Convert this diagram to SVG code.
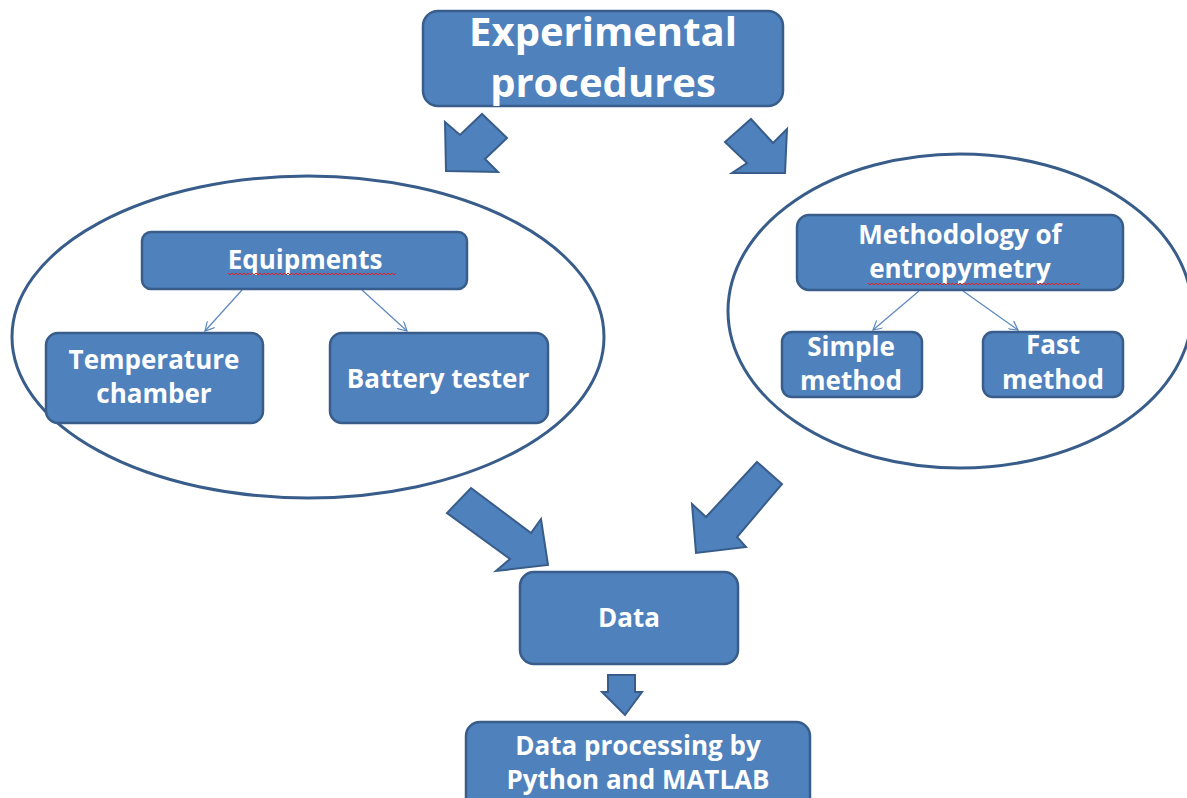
<svg xmlns="http://www.w3.org/2000/svg" width="1187" height="798" viewBox="0 0 1187 798">
<style>
.box{fill:#4F81BD;stroke:#385D8A;stroke-width:2.5}
.ell{fill:none;stroke:#385D8A;stroke-width:3}
.blk{fill:#4F81BD;stroke:#385D8A;stroke-width:2;stroke-linejoin:miter}
.lbl{font-family:"Open Sans","Liberation Sans",sans-serif;font-weight:700;font-size:26px;fill:#FFFFFF;text-anchor:middle}
.ttl{font-family:"Open Sans","Liberation Sans",sans-serif;font-weight:700;font-size:40px;fill:#FFFFFF;text-anchor:middle}
.con{stroke:#5B87C0;stroke-width:1.2;fill:none}
.wavy{stroke:#E02020;stroke-width:1;fill:none}
</style>
<defs>
<marker id="open" viewBox="0 0 10 10" refX="9" refY="5" markerWidth="10" markerHeight="10" markerUnits="userSpaceOnUse" orient="auto">
<path d="M0,0 L9,5 L0,10" fill="none" stroke="#5B87C0" stroke-width="1.2"/>
</marker>
</defs>
<rect width="1187" height="798" fill="#FFFFFF"/>

<g id="ellipses">
<ellipse class="ell" cx="308" cy="337" rx="296" ry="161"/>
<ellipse class="ell" cx="960" cy="311" rx="232" ry="157"/>
</g>

<g id="connectors">
<polygon class="blk" points="445,122 460,135 482,114 507,138 485,159 498,172 446,171"/>
<polygon class="blk" points="751,119 773,143 787,129 785,173 732,173 747,163 725,142"/>
<polygon class="blk" points="471,488 531,533 541,519 548,565 496,571 510,559 447,513"/>
<polygon class="blk" points="757,462 782,484 737,537 746,547 696,553 692,504 706,517"/>
<polygon class="blk" points="608,675 635,675 635,692 642,692 625,715 602,692 608,692"/>
<line class="con" x1="242" y1="290" x2="205" y2="331" marker-end="url(#open)"/>
<line class="con" x1="362" y1="290" x2="407" y2="331" marker-end="url(#open)"/>
<line class="con" x1="919" y1="291" x2="873" y2="330" marker-end="url(#open)"/>
<line class="con" x1="963" y1="291" x2="1018" y2="330" marker-end="url(#open)"/>
</g>

<g id="experimental-procedures">
<rect class="box" x="423" y="11" width="360" height="95" rx="15"/>
<text class="ttl" x="603" y="46">Experimental</text>
<text class="ttl" x="603" y="97">procedures</text>
</g>

<g id="equipments">
<rect class="box" x="142" y="232" width="325" height="57" rx="9"/>
<text class="lbl" x="305" y="269">Equipments</text>
<path class="wavy" d="M228,273 l2,2 l2,-2 l2,2 l2,-2 l2,2 l2,-2 l2,2 l2,-2 l2,2 l2,-2 l2,2 l2,-2 l2,2 l2,-2 l2,2 l2,-2 l2,2 l2,-2 l2,2 l2,-2 l2,2 l2,-2 l2,2 l2,-2 l2,2 l2,-2 l2,2 l2,-2 l2,2 l2,-2 l2,2 l2,-2 l2,2 l2,-2 l2,2 l2,-2 l2,2 l2,-2 l2,2 l2,-2 l2,2 l2,-2 l2,2 l2,-2 l2,2 l2,-2 l2,2 l2,-2 l2,2 l2,-2 l2,2 l2,-2 l2,2 l2,-2 l2,2 l2,-2 l2,2 l2,-2 l2,2 l2,-2 l2,2 l2,-2 l2,2 l2,-2 l2,2 l2,-2 l2,2 l2,-2 l2,2 l2,-2 l2,2 l2,-2 l2,2 l2,-2 l2,2 l2,-2 l2,2 l2,-2 l2,2 l2,-2 l2,2 l2,-2 l2,2 l2,-2"/>
</g>

<g id="temperature-chamber">
<rect class="box" x="46" y="333" width="217" height="90" rx="12"/>
<text class="lbl" x="154" y="369">Temperature</text>
<text class="lbl" x="154" y="403">chamber</text>
</g>

<g id="battery-tester">
<rect class="box" x="330" y="333" width="218" height="90" rx="12"/>
<text class="lbl" x="438" y="388">Battery tester</text>
</g>

<g id="methodology">
<rect class="box" x="797" y="215" width="326" height="75" rx="12"/>
<text class="lbl" x="960" y="244">Methodology of</text>
<text class="lbl" x="960" y="278">entropymetry</text>
<path class="wavy" d="M868,283 l2,2 l2,-2 l2,2 l2,-2 l2,2 l2,-2 l2,2 l2,-2 l2,2 l2,-2 l2,2 l2,-2 l2,2 l2,-2 l2,2 l2,-2 l2,2 l2,-2 l2,2 l2,-2 l2,2 l2,-2 l2,2 l2,-2 l2,2 l2,-2 l2,2 l2,-2 l2,2 l2,-2 l2,2 l2,-2 l2,2 l2,-2 l2,2 l2,-2 l2,2 l2,-2 l2,2 l2,-2 l2,2 l2,-2 l2,2 l2,-2 l2,2 l2,-2 l2,2 l2,-2 l2,2 l2,-2 l2,2 l2,-2 l2,2 l2,-2 l2,2 l2,-2 l2,2 l2,-2 l2,2 l2,-2 l2,2 l2,-2 l2,2 l2,-2 l2,2 l2,-2 l2,2 l2,-2 l2,2 l2,-2 l2,2 l2,-2 l2,2 l2,-2 l2,2 l2,-2 l2,2 l2,-2 l2,2 l2,-2 l2,2 l2,-2 l2,2 l2,-2 l2,2 l2,-2 l2,2 l2,-2 l2,2 l2,-2 l2,2 l2,-2 l2,2 l2,-2 l2,2 l2,-2 l2,2 l2,-2 l2,2 l2,-2 l2,2 l2,-2 l2,2 l2,-2 l2,2 l2,-2"/>
</g>

<g id="simple-method">
<rect class="box" x="782" y="332" width="140" height="65" rx="10"/>
<text class="lbl" x="851" y="356">Simple</text>
<text class="lbl" x="851" y="390">method</text>
</g>

<g id="fast-method">
<rect class="box" x="983" y="332" width="140" height="65" rx="10"/>
<text class="lbl" x="1053" y="354">Fast</text>
<text class="lbl" x="1053" y="389">method</text>
</g>

<g id="data">
<rect class="box" x="520" y="572" width="218" height="92" rx="14"/>
<text class="lbl" x="629" y="627">Data</text>
</g>

<g id="data-processing">
<rect class="box" x="466" y="722" width="344" height="90" rx="14"/>
<text class="lbl" x="638" y="755">Data processing by</text>
<text class="lbl" x="638" y="789">Python and MATLAB</text>
</g>
</svg>
